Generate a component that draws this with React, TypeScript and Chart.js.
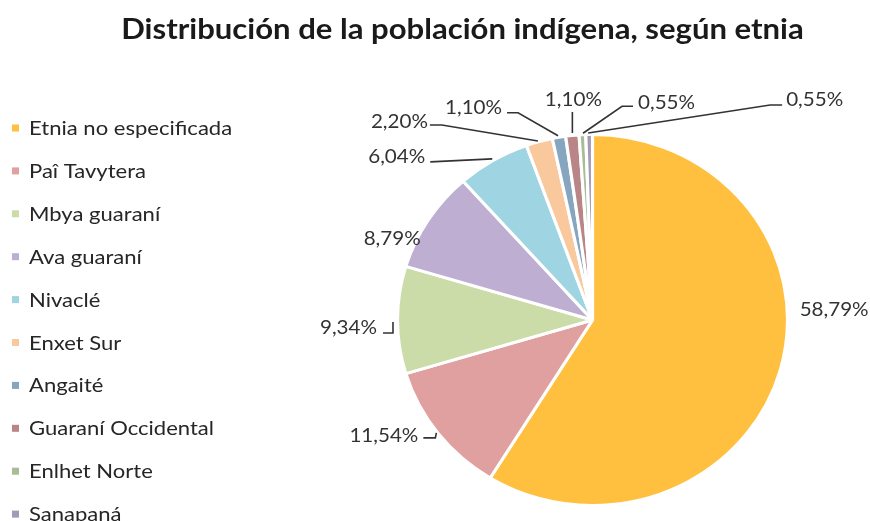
import React, { useEffect, useRef } from "react";
import { Chart, registerables } from "chart.js";

Chart.register(...registerables);

const titleText = "Distribución de la población indígena, según etnia";
const categories = [
  "Etnia no especificada",
  "Paî Tavytera",
  "Mbya guaraní",
  "Ava guaraní",
  "Nivaclé",
  "Enxet Sur",
  "Angaité",
  "Guaraní Occidental",
  "Enlhet Norte",
  "Sanapaná",
];
const values = [58.79, 11.54, 9.34, 8.79, 6.04, 2.2, 1.1, 1.1, 0.55, 0.55];
const colors = [
  "#FFC03F",
  "#E0A09F",
  "#CCDCA8",
  "#BDAED2",
  "#9FD4E2",
  "#F9C89C",
  "#86A5BE",
  "#B98586",
  "#A9BB97",
  "#A29AB6",
];

// label layout: text offset from slice edge midpoint, alignment, leader polyline offsets
type LabelLayout = { tx: number; ty: number; align: CanvasTextAlign; leader: number[][] };
const labelLayout: LabelLayout[] = [
  { tx: 20, ty: -61, align: "left", leader: [] },
  { tx: -20, ty: 3, align: "right", leader: [[-2, 0], [-3, 5], [-15, 5]] },
  { tx: -21, ty: 8, align: "right", leader: [[-5, 2], [-5, 13], [-15, 13]] },
  { tx: -8, ty: 18, align: "right", leader: [] },
  { tx: -68, ty: -4, align: "right", leader: [[-1, -2], [-63, 1]] },
  { tx: -111.5, ty: -20, align: "right", leader: [[-1.5, -1], [-97.5, -17], [-109.5, -17]] },
  { tx: -57, ty: -30, align: "right", leader: [[-1, -2], [-41, -25], [-52, -25]] },
  { tx: 1, ty: -36, align: "center", leader: [[0, -3], [0, -24]] },
  { tx: 55.6, ty: -33, align: "left", leader: [[0.6, -2], [39.6, -29], [50.6, -29]] },
  { tx: 197, ty: -35, align: "left", leader: [[-1, -2], [181, -30], [193, -30]] },
];

const fmt = (v: number) => v.toFixed(2).replace(".", ",") + "%";
const SX = 194.5 / 185;
const FONT = "Lato, 'Open Sans', sans-serif";

function scaledText(ctx: CanvasRenderingContext2D, text: string, x: number, y: number, s: number) {
  ctx.save();
  ctx.translate(x, y);
  ctx.scale(s, 1);
  ctx.fillText(text, 0, 0);
  ctx.restore();
}

const decoPlugin = {
  id: "deco",
  beforeDatasetsDraw(chart: any) {
    const meta = chart.getDatasetMeta(0);
    const a = meta.data[0];
    const ctx = chart.ctx;
    ctx.save();
    ctx.translate(a.x, a.y);
    ctx.scale(SX, 1);
    ctx.translate(-a.x, -a.y);
  },
  afterDatasetsDraw(chart: any) {
    const ctx = chart.ctx as CanvasRenderingContext2D;
    ctx.restore();
    const meta = chart.getDatasetMeta(0);
    ctx.save();
    ctx.font = `20px ${FONT}`;
    ctx.fillStyle = "#333333";
    ctx.strokeStyle = "#333333";
    ctx.lineWidth = 1.6;
    ctx.textBaseline = "middle";
    meta.data.forEach((arc: any, i: number) => {
      const mid = (arc.startAngle + arc.endAngle) / 2;
      const R = 185;
      const ax = arc.x + SX * R * Math.cos(mid);
      const ay = arc.y + R * Math.sin(mid);
      const L = labelLayout[i];
      if (L.leader.length) {
        ctx.beginPath();
        L.leader.forEach((p, j) => {
          if (j === 0) ctx.moveTo(ax + p[0], ay + p[1]);
          else ctx.lineTo(ax + p[0], ay + p[1]);
        });
        ctx.stroke();
      }
      ctx.textAlign = L.align;
      scaledText(ctx, fmt(values[i]), ax + L.tx, ay + L.ty, 1.03);
    });
    ctx.restore();
  },
  afterDraw(chart: any) {
    const ctx = chart.ctx as CanvasRenderingContext2D;
    ctx.save();
    ctx.font = `bold 28px ${FONT}`;
    ctx.fillStyle = "#1a1a1a";
    ctx.textAlign = "center";
    ctx.textBaseline = "alphabetic";
    scaledText(ctx, titleText, 462.5, 38.5, 1.11);
    ctx.font = `19px ${FONT}`;
    ctx.textAlign = "left";
    categories.forEach((c, i) => {
      const y = 128 + i * 42.9;
      ctx.fillStyle = colors[i];
      ctx.fillRect(12, y - 3.5, 7, 7);
      ctx.fillStyle = "#262626";
      scaledText(ctx, c, 29, y + 7, 1.16);
    });
    ctx.restore();
  },
};

export default function App() {
  const ref = useRef<HTMLCanvasElement | null>(null);
  useEffect(() => {
    if (!ref.current) return;
    const chart = new Chart(ref.current, {
      type: "pie",
      data: {
        labels: categories,
        datasets: [
          {
            data: values,
            backgroundColor: colors,
            borderColor: "#ffffff",
            borderWidth: 3,
            clip: false as any,
          },
        ],
      },
      options: {
        responsive: false,
        animation: false,
        layout: { padding: { top: 133, bottom: 14, left: 405.5, right: 90.5 } },
        plugins: {
          legend: { display: false },
          title: { display: false },
          tooltip: { enabled: false },
        },
      },
      plugins: [decoPlugin],
    });
    return () => chart.destroy();
  }, []);
  return (
    <div style={{ position: "absolute", left: 0, top: 0, width: 870, height: 521, background: "#fff" }}>
      <canvas ref={ref} width={870} height={521} style={{ display: "block" }} />
    </div>
  );
}
